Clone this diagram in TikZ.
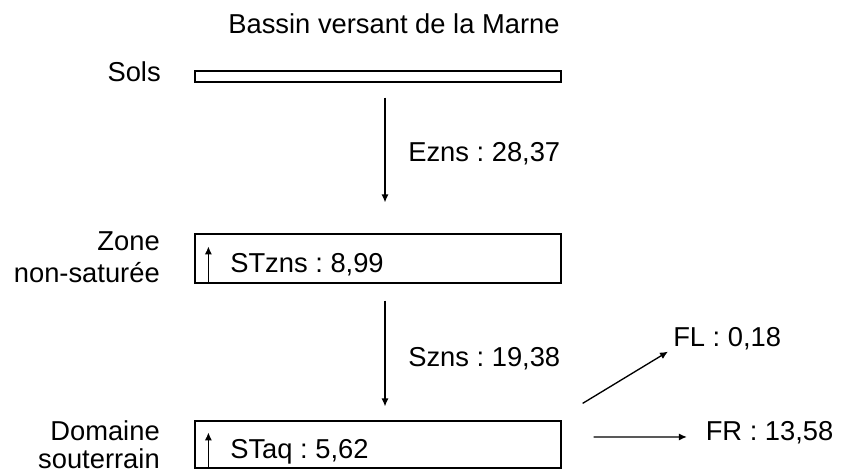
\documentclass[tikz,border=0pt]{standalone}
\usepackage{fontspec}
\setmainfont{Liberation Sans}
\usetikzlibrary{arrows.meta}
\frenchspacing

\begin{document}
\begin{tikzpicture}[
    x=0.75pt, y=-0.75pt,
    font=\fontsize{20.5}{24}\selectfont,
    store/.style={rectangle, draw=black, line width=0.9pt, minimum width=274.5pt, inner sep=0pt},
    txt/.style={inner sep=0pt, text height=15pt, text depth=4pt, anchor=base west},
    side/.style={inner sep=0pt, align=right, anchor=base east},
    flow/.style={-{Latex[length=6pt,width=5.4pt]}, line width=1pt}
]
    \useasboundingbox (0,0) rectangle (841,474);

    \node[anchor=base] (title) at (394,33.5) {Bassin versant de la Marne};

    \node[store, minimum height=8.25pt] (sols) at (378,76.5) {};
    \node[store, minimum height=36.75pt] (zns) at (378,258.5) {};
    \node[store, minimum height=35.25pt] (aq) at (378,444.5) {};

    \node[side] (lsols) at (161,82) {Sols};
    \node[side] (lzns) at (160,282) {Zone\\non-saturée};
    \node[side] (laq) at (160,468) {Domaine\\[-3pt]souterrain};

    \node[txt] (stzns) at (230,272.5) {STzns : 8,99};
    \node[txt] (staq) at (230,458.3) {STaq : 5,62};
    \node[txt] (ezns) at (408,161.5) {Ezns : 28,37};
    \node[txt] (szns) at (408,366.7) {Szns : 19,38};
    \node[txt] (fl) at (673,346) {FL : 0,18};
    \node[txt] (fr) at (705.5,440.7) {FR : 13,58};

    % storage arrows inside the boxes
    \draw[flow] ([xshift=10.5pt]zns.south west) -- ([xshift=10.5pt,yshift=-9.75pt]zns.north west);
    \draw[flow] ([xshift=10.5pt]aq.south west) -- ([xshift=10.5pt,yshift=-9pt]aq.north west);

    % vertical fluxes
    \draw[flow] ([xshift=5.25pt,yshift=-11.25pt]sols.south) -- ([xshift=5.25pt,yshift=23.25pt]zns.north);
    \draw[flow] ([xshift=5.25pt,yshift=-12.75pt]zns.south) -- ([xshift=5.25pt,yshift=10.5pt]aq.north);

    % outflows
    \draw[flow] ([xshift=15.75pt,yshift=12.75pt]aq.north east) -- ([xshift=-3.75pt]fl.south west);
    \draw[flow] ([xshift=24pt,yshift=5.6pt]aq.east) -- ([xshift=-14pt,yshift=-2.7pt]fr.west);
\end{tikzpicture}
\end{document}
